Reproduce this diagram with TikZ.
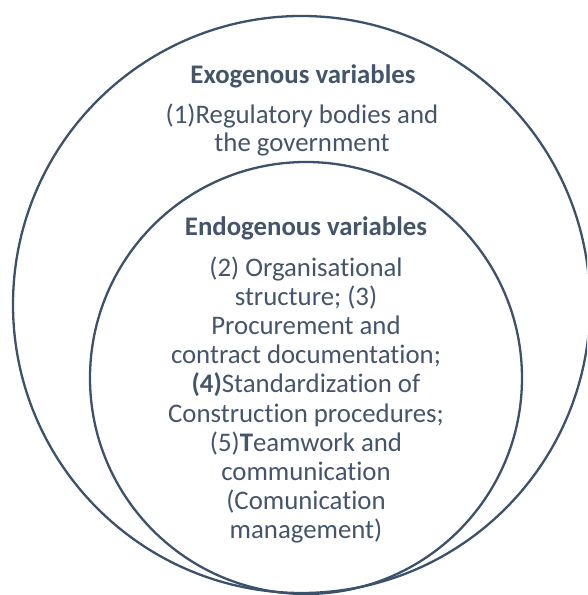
\documentclass[tikz,border=0pt]{standalone}
\usepackage{fontspec}
\setmainfont{Carlito}[Ligatures=NoCommon]
\definecolor{slate}{HTML}{3C516B}
\definecolor{txt}{HTML}{44546A}
\begin{document}
\begin{tikzpicture}[x=1pt,y=1pt,
  ring/.style={draw=slate,line width=2.3pt},
  title/.style={text=txt,font=\fontsize{26.8}{30}\selectfont\bfseries,align=center,inner sep=0pt},
  body/.style={text=txt,align=center,inner sep=0pt}]
\useasboundingbox (0,0) rectangle (587,595);
\clip (0,0) rectangle (587,595);
\draw[ring] (301.5,290.5) circle[radius=288.5];
\draw[ring] (306,217) circle[radius=216];
\node[title] (exot) at (303,519) {Exogenous variables};
\node[body,font=\fontsize{26.8}{28}\selectfont] (exob) at (302,465) {(1)Regulatory bodies and\\the government};
\node[title] (endt) at (306,367) {Endogenous variables};
\node[body,font=\fontsize{26.8}{29.1}\selectfont] (endb) at (306,195) {(2) Organisational\\structure; (3)\\Procurement and\\contract documentation;\\\textbf{(4)}Standardization of\\Construction procedures;\\(5)\textbf{T}eamwork and\\communication\\(Comunication\\management)};
\end{tikzpicture}
\end{document}
